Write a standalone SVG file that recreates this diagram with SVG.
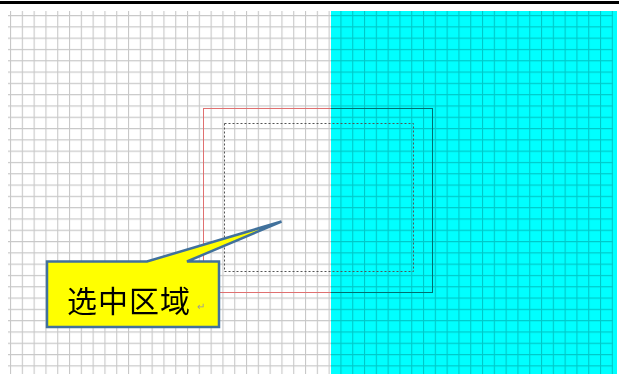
<svg xmlns="http://www.w3.org/2000/svg" width="619" height="374" viewBox="0 0 619 374">
  <style>
    .sel { fill: none; stroke: #e07070; stroke-width: 1; }
    .dash { fill: none; stroke: #555; stroke-width: 1; stroke-dasharray: 2 2; }
    .callout { fill: #ffff00; stroke: #41719c; stroke-width: 2.5; stroke-linejoin: miter; }
    .label { font-family: "Noto Sans CJK SC", "Liberation Sans", sans-serif; font-size: 30px; letter-spacing: 1px; fill: #000; }
    .mark { font-family: "Liberation Sans", sans-serif; font-size: 10px; fill: #999; }
  </style>
  <defs>
    <pattern id="grid" patternUnits="userSpaceOnUse" x="10" y="15" width="11.8" height="11.3">
      <path d="M0.5 0V11.3M0 0.5H11.8" stroke="#c8c8c8" stroke-width="1.2" fill="none"/>
    </pattern>
  </defs>
  <rect width="619" height="374" fill="#ffffff"/>
  <rect x="0" y="1" width="619" height="3" fill="#000"/>
  <g id="grid-paper">
    <rect x="8" y="11" width="605" height="363" fill="url(#grid)"/>
  </g>
  <g id="selection">
    <rect class="sel" x="203.5" y="108.5" width="229" height="184"/>
  </g>
  <g id="cyan-area">
    <rect x="331" y="11" width="286" height="363" fill="#00ffff" style="mix-blend-mode:multiply"/>
  </g>
  <g id="dashed-area">
    <rect class="dash" x="224.5" y="123.5" width="189" height="148"/>
  </g>
  <g id="callout">
    <path class="callout" d="M47 261.5H147L281.5 221.5L187 261.5H219V327H47Z"/>
    <text class="label" x="67" y="312">选中区域</text>
    <text class="mark" x="197" y="310">↵</text>
  </g>
</svg>
